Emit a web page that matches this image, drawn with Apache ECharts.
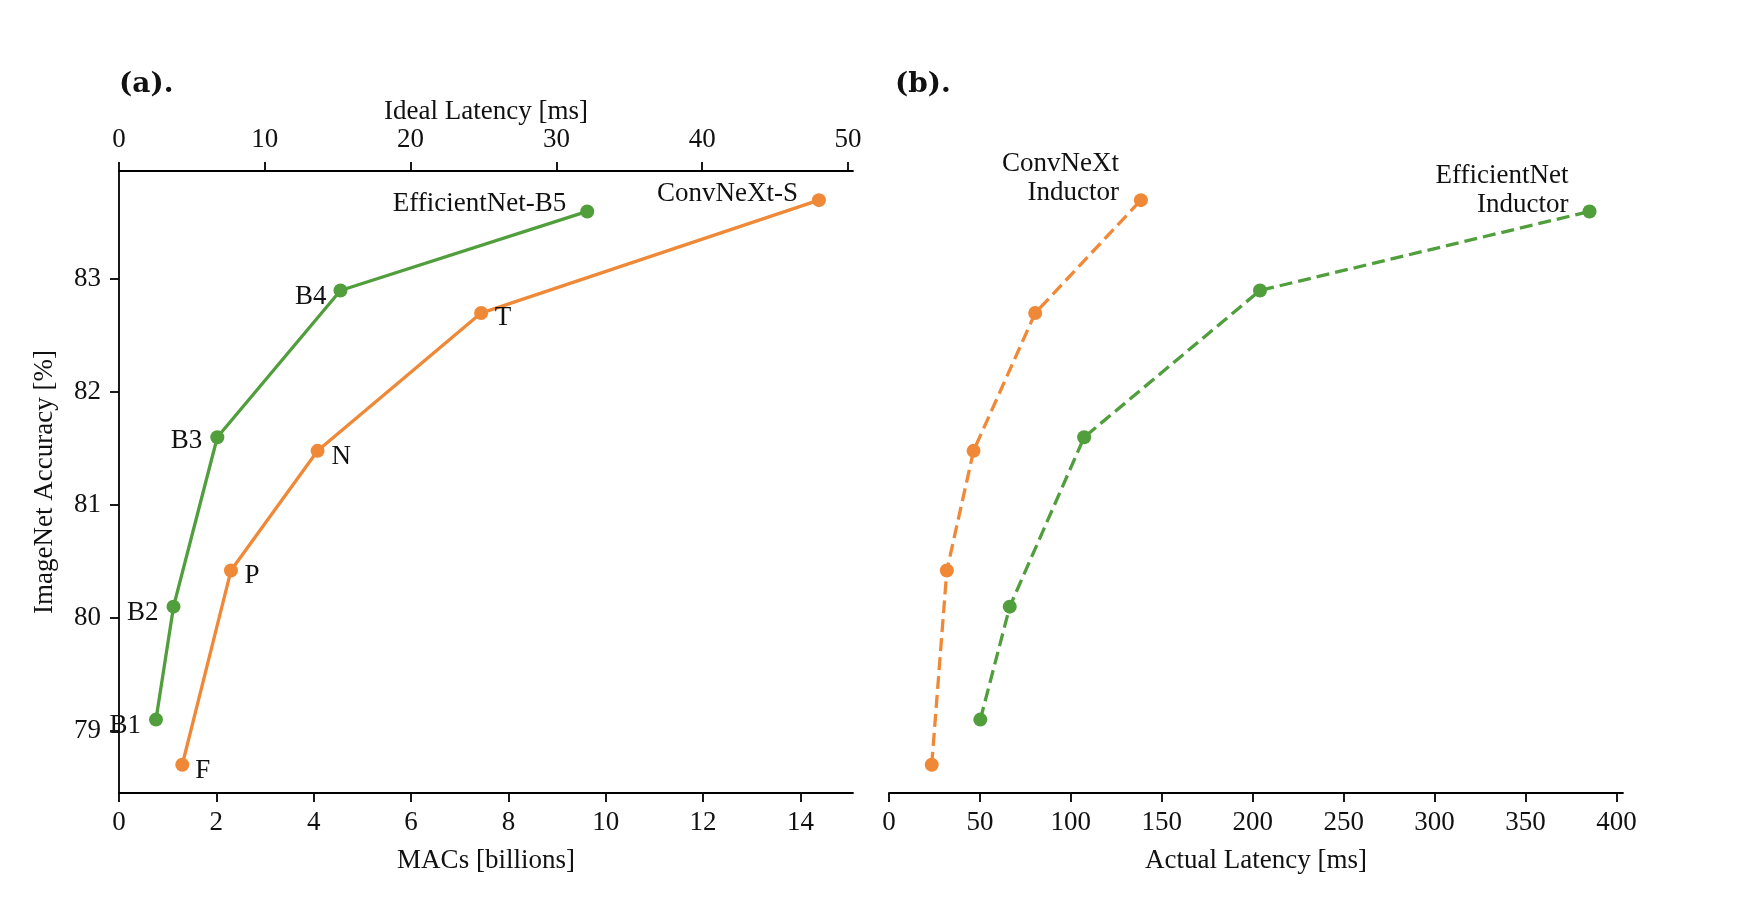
<!DOCTYPE html>
<html>
<head>
<meta charset="utf-8">
<script src="https://cdn.jsdelivr.net/npm/echarts@6/dist/echarts.min.js"></script>
<style>
html,body{margin:0;padding:0;background:#fff;}
#chart{width:1742px;height:922px;}
</style>
</head>
<body>
<div id="chart"></div>
<script>
// ---- data ----
const effNames = ['B1', 'B2', 'B3', 'B4', 'EfficientNet-B5'];
const effMACs = [0.76, 1.12, 2.02, 4.55, 9.62];
const effAcc = [79.1, 80.1, 81.6, 82.9, 83.6];
const effLatency = [50.2, 66.4, 107.3, 204.0, 385.2];

const cnxNames = ['F', 'P', 'N', 'T', 'ConvNeXt-S'];
const cnxMACs = [1.30, 2.30, 4.08, 7.44, 14.38];
const cnxAcc = [78.7, 80.42, 81.48, 82.7, 83.7];
const cnxLatency = [23.5, 31.8, 46.5, 80.4, 138.5];

const macTicks = [0, 2, 4, 6, 8, 10, 12, 14];
const idealTicks = [0, 10, 20, 30, 40, 50];
const latencyTicks = [0, 50, 100, 150, 200, 250, 300, 350, 400];
const accTicks = [79, 80, 81, 82, 83];

const inductorLabelEff = 'EfficientNet\nInductor';
const inductorLabelCnx = 'ConvNeXt\nInductor';

// ---- styles ----
const GREEN = '#509e3c';
const ORANGE = '#f08937';
const FONT = '"Liberation Serif", "Times New Roman", serif';
const FS = 27;
const TXT = '#111';

// label placement (style only, not data)
const effLabelPlace = [
  {position: 'left', offset: [-3, 6]},
  {position: 'left', offset: [-3, 6]},
  {position: 'left', offset: [-3, 4]},
  {position: 'left', offset: [-2, 6]},
  {position: 'left', offset: [-9, -7.5]}
];
const cnxLabelPlace = [
  {position: 'right', offset: [1, 6]},
  {position: 'right', offset: [1.5, 5]},
  {position: 'right', offset: [2, 6]},
  {position: 'right', offset: [1.5, 5]},
  {position: 'left', offset: [-9, -6.5]}
];

function buildLabeled(xs, ys, names, places) {
  return xs.map((x, i) => ({
    value: [x, ys[i]],
    label: {
      show: true,
      formatter: names[i],
      position: places[i].position,
      offset: places[i].offset,
      distance: 5,
      fontFamily: FONT,
      fontSize: FS,
      color: TXT
    }
  }));
}
function buildLast(xs, ys, text, offset) {
  return xs.map((x, i) => {
    const item = {value: [x, ys[i]]};
    if (i === xs.length - 1) {
      item.label = {
        show: true, formatter: text, position: 'left', offset: offset,
        distance: 5, fontFamily: FONT, fontSize: FS, color: TXT,
        lineHeight: 29, align: 'right'
      };
    }
    return item;
  });
}

const axisLineStyle = {show: true, lineStyle: {color: '#000', width: 1.8}};
const tickStyle = (vals) => ({show: true, inside: false, length: 9, lineStyle: {color: '#000', width: 1.8}, customValues: vals});
const labelStyle = (vals, margin) => ({show: true, customValues: vals, margin: margin, fontFamily: FONT, fontSize: FS, color: TXT});
const nameStyle = {fontFamily: FONT, fontSize: FS, color: TXT};
const TITLE_FONT = '"DejaVu Serif", "Liberation Serif", serif';

const option = {
  animation: false,
  backgroundColor: '#fff',
  title: [
    {text: '(a).', left: 119, top: 71, padding: 0, textStyle: {fontFamily: TITLE_FONT, fontSize: 28, fontWeight: 'bold', color: TXT}},
    {text: '(b).', left: 895, top: 71, padding: 0, textStyle: {fontFamily: TITLE_FONT, fontSize: 28, fontWeight: 'bold', color: TXT}}
  ],
  grid: [
    {left: 119, top: 171, width: 734, height: 622, containLabel: false, outerBoundsMode: 'none'},
    {left: 889, top: 171, width: 734, height: 622, containLabel: false, outerBoundsMode: 'none'}
  ],
  xAxis: [
    {
      type: 'value', gridIndex: 0, position: 'bottom', min: 0, max: 15.08,
      name: 'MACs [billions]', nameLocation: 'middle', nameGap: 54, nameTextStyle: nameStyle,
      axisLine: axisLineStyle, axisTick: tickStyle(macTicks), axisLabel: labelStyle(macTicks, 16),
      splitLine: {show: false}
    },
    {
      type: 'value', gridIndex: 0, position: 'top', min: 0, max: 50.34,
      name: 'Ideal Latency [ms]', nameLocation: 'middle', nameGap: 46, nameMoveOverlap: false, nameTextStyle: nameStyle,
      axisLine: axisLineStyle, axisTick: tickStyle(idealTicks), axisLabel: labelStyle(idealTicks, 18),
      splitLine: {show: false}
    },
    {
      type: 'value', gridIndex: 1, position: 'bottom', min: 0, max: 403.6,
      name: 'Actual Latency [ms]', nameLocation: 'middle', nameGap: 54, nameTextStyle: nameStyle,
      axisLine: axisLineStyle, axisTick: tickStyle(latencyTicks), axisLabel: labelStyle(latencyTicks, 16),
      splitLine: {show: false}
    }
  ],
  yAxis: [
    {
      type: 'value', gridIndex: 0, min: 78.45, max: 83.958,
      name: 'ImageNet Accuracy [%]', nameLocation: 'middle', nameGap: 61, nameTextStyle: nameStyle,
      axisLine: axisLineStyle, axisTick: tickStyle(accTicks), axisLabel: labelStyle(accTicks, 18),
      splitLine: {show: false}
    },
    {
      type: 'value', gridIndex: 1, min: 78.45, max: 83.958, show: false,
      splitLine: {show: false}
    }
  ],
  series: [
    {
      type: 'line', xAxisIndex: 0, yAxisIndex: 0,
      data: buildLabeled(effMACs, effAcc, effNames, effLabelPlace),
      symbol: 'circle', symbolSize: 14,
      itemStyle: {color: GREEN, borderWidth: 0},
      lineStyle: {color: GREEN, width: 3.3}
    },
    {
      type: 'line', xAxisIndex: 0, yAxisIndex: 0,
      data: buildLabeled(cnxMACs, cnxAcc, cnxNames, cnxLabelPlace),
      symbol: 'circle', symbolSize: 14,
      itemStyle: {color: ORANGE, borderWidth: 0},
      lineStyle: {color: ORANGE, width: 3.3}
    },
    {
      type: 'line', xAxisIndex: 2, yAxisIndex: 1,
      data: buildLast(cnxLatency, cnxAcc, inductorLabelCnx, [-10, -22]),
      symbol: 'circle', symbolSize: 14,
      itemStyle: {color: ORANGE, borderWidth: 0},
      lineStyle: {color: ORANGE, width: 3.3, type: [13, 6]}
    },
    {
      type: 'line', xAxisIndex: 2, yAxisIndex: 1,
      data: buildLast(effLatency, effAcc, inductorLabelEff, [-9, -21.5]),
      symbol: 'circle', symbolSize: 14,
      itemStyle: {color: GREEN, borderWidth: 0},
      lineStyle: {color: GREEN, width: 3.3, type: [13, 6]}
    }
  ]
};

const chart = echarts.init(document.getElementById('chart'), null, {renderer: 'canvas'});
chart.setOption(option);
</script>
</body>
</html>
